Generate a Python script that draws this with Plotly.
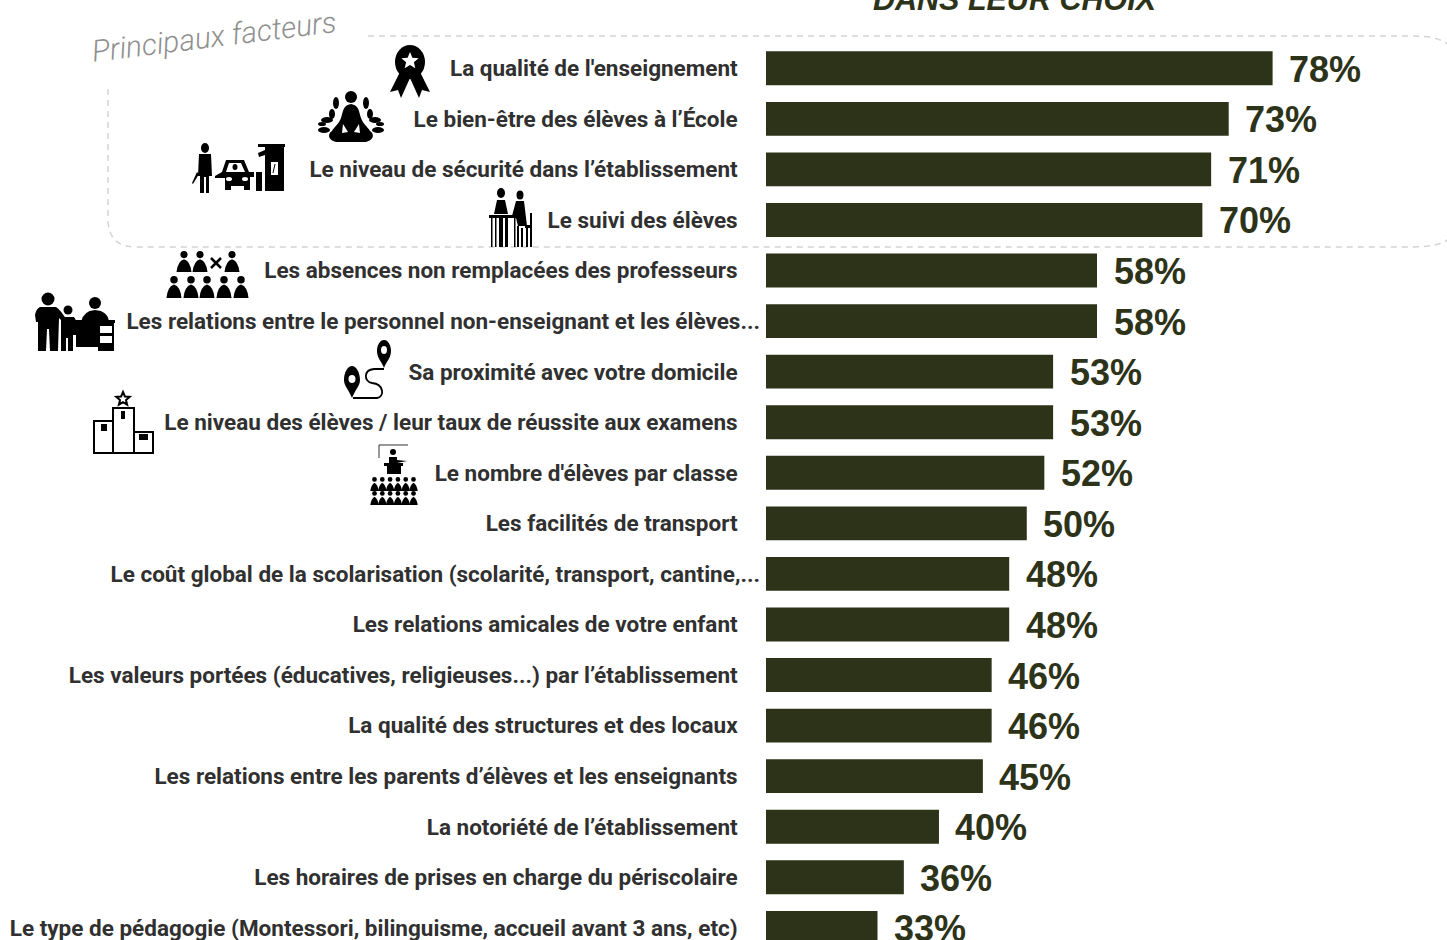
import re
import math
import plotly.graph_objects as go

W, H = 1447, 940
categories = [
    "La qualité de l'enseignement", "Le bien-être des élèves à l’École",
    "Le niveau de sécurité dans l’établissement", "Le suivi des élèves",
    "Les absences non remplacées des professeurs",
    "Les relations entre le personnel non-enseignant et les élèves...",
    "Sa proximité avec votre domicile",
    "Le niveau des élèves / leur taux de réussite aux examens",
    "Le nombre d'élèves par classe", "Les facilités de transport",
    "Le coût global de la scolarisation (scolarité, transport, cantine,...",
    "Les relations amicales de votre enfant",
    "Les valeurs portées (éducatives, religieuses...) par l’établissement",
    "La qualité des structures et des locaux",
    "Les relations entre les parents d’élèves et les enseignants",
    "La notoriété de l’établissement",
    "Les horaires de prises en charge du périscolaire",
    "Le type de pédagogie (Montessori, bilinguisme, accueil avant 3 ans, etc)",
]
values = [78, 73, 71, 70, 58, 58, 53, 53, 52, 50, 48, 48, 46, 46, 45, 40, 36, 33]
AXIS_MIN = 20.3
DARK = "#2d3319"
NB = "\u00a0"
# the two truncated labels run closer to the bars than the others
ticktext = [c if c.endswith(",...") or c.endswith("élèves...") else c + NB * 4 for c in categories]

shapes = []

def P(d, fill="black", line=None, width=0, dash=None):
    """Decorative path given in page pixels, converted to paper fractions."""
    parts, buf = [], []
    for t in re.findall(r"[MLCQZ]|-?\d+\.?\d*", d):
        if t in "MLCQZ":
            parts.append(t)
        else:
            buf.append(t)
            if len(buf) == 2:
                parts.append(f"{float(buf[0]) / W:.5f},{1 - float(buf[1]) / H:.5f}")
                buf = []
    shapes.append(dict(type="path", xref="paper", yref="paper", path=" ".join(parts),
                       fillcolor=fill, layer="above",
                       line=dict(color=line or "rgba(0,0,0,0)", width=width, dash=dash or "solid")))

def E(cx, cy, rx, ry=None, fill="black"):
    ry = ry or rx
    shapes.append(dict(type="circle", xref="paper", yref="paper", layer="above",
                       x0=(cx - rx) / W, x1=(cx + rx) / W, y0=1 - (cy + ry) / H, y1=1 - (cy - ry) / H,
                       fillcolor=fill, line=dict(width=0)))

def R(x0, y0, x1, y1, fill="black", line=None, width=0):
    shapes.append(dict(type="rect", xref="paper", yref="paper", layer="above",
                       x0=x0 / W, x1=x1 / W, y0=1 - y1 / H, y1=1 - y0 / H,
                       fillcolor=fill, line=dict(color=line or "rgba(0,0,0,0)", width=width)))

def star(cx, cy, r, fill="white", line=None, width=0):
    pts = []
    for i in range(10):
        a = -math.pi / 2 + i * math.pi / 5
        rr = r if i % 2 == 0 else r * 0.45
        pts.append((cx + rr * math.cos(a), cy + rr * math.sin(a)))
    P("M " + " L ".join(f"{x:.1f} {y:.1f}" for x, y in pts) + " Z", fill=fill, line=line, width=width)

def person(cx, top, w, h):
    """Small seated pictogram: head and bell-shaped body."""
    r = h * 0.17
    E(cx, top + r, r)
    y0 = top + 2 * r + 1
    y1 = top + h
    P(f"M {cx - w/2} {y1} Q {cx - w/2 + 1} {y0 + 2} {cx} {y0} Q {cx + w/2 - 1} {y0 + 2} {cx + w/2} {y1} Z")

# dashed frame around the main factors
GREY = "#d4d4d4"
P("M 368 36 L 1412 36 Q 1440 36 1450 46", fill="rgba(0,0,0,0)", line=GREY, width=1.5, dash="6px,5px")
P("M 1450 238 Q 1440 247 1412 247 L 136 247 Q 108 247 108 219 L 108 85", fill="rgba(0,0,0,0)", line=GREY, width=1.5, dash="6px,5px")

# medal
P("M 400 72 L 390 92 L 398 90 L 401 98 L 410 78 L 419 98 L 422 90 L 430 92 L 420 72 Z")
E(410, 62, 15, 17)
star(410, 61, 9)

# meditation
E(351, 97, 6)
P("M 351 104 C 343 105 343 112 341 118 C 339 124 334 127 332 131 C 326 135 330 142 338 142 L 364 142 C 372 142 376 135 370 131 C 368 127 363 124 361 118 C 359 112 359 105 351 104 Z")
P("M 343 124 L 348 132 L 342 133 Z", fill="white")
P("M 359 124 L 354 132 L 360 133 Z", fill="white")
for cx, cy, rx, ry in [(336, 103, 3, 6), (327, 120, 6, 3), (324, 130, 6, 3), (332, 114, 3, 5), (366, 103, 3, 6),
                       (375, 120, 6, 3), (378, 130, 6, 3), (370, 114, 3, 5), (322, 124, 4, 2), (380, 124, 4, 2)]:
    E(cx, cy, rx, ry)

# guard, car, booth
E(205, 148, 4, 5)
P("M 199 154 L 211 154 L 212 176 L 209 176 L 209 193 L 206 193 L 206 177 L 204 177 L 204 193 L 200 193 L 200 176 L 198 176 Z")
P("M 197 172 L 199 174 L 193 184 L 192 183 Z")
P("M 226 160 L 244 160 L 249 172 L 254 172 L 254 177 L 250 177 L 250 190 L 244 190 L 244 186 L 231 186 L 231 190 L 225 190 L 225 178 L 215 178 L 215 176 L 222 172 Z")
P("M 229 163 L 241 163 L 245 172 L 226 172 Z", fill="white")
E(235, 167, 2.5, 3)
E(229, 179, 3, 2, fill="white"); E(245, 179, 3, 2, fill="white")
R(256, 172, 262, 191)
R(258, 144, 285, 147)
R(265, 147, 284, 191)
R(271, 162, 278, 175, fill="white")
P("M 275 164 L 273 173", fill="rgba(0,0,0,0)", line="black", width=1)
P("M 258 153 L 265 150 L 265 155 L 259 157 Z")

# two people at a desk
E(501, 193, 4, 5); E(520, 195, 3.5, 4.5)
P("M 497 200 L 505 200 L 508 214 L 494 214 Z")
P("M 516 201 L 524 201 L 527 226 L 518 226 L 516 218 L 512 216 Z")
R(489, 215, 517, 218)
for x in (491, 495, 514):
    R(x, 218, x + 1.5, 247)
R(499, 218, 503, 247); R(505, 218, 508, 247)
R(517, 226, 519, 247); R(521, 228, 523, 247); R(526, 225, 528, 247); R(530, 213, 532, 247); R(525, 225, 532, 228)

# absent teachers
for cx in (184, 200, 232):
    person(cx, 251, 15, 21)
P("M 211 258 L 221 268 M 221 258 L 211 268", fill="rgba(0,0,0,0)", line="black", width=2.5)
for cx in (174, 191, 207, 224, 241):
    person(cx, 276, 15, 22)

# parent, child and staff at desk
E(48, 299, 6.5)
P("M 40 307 L 56 307 Q 60 309 68 322 L 66 325 L 59 318 L 58 351 L 50 351 L 49 329 L 47 329 L 46 351 L 38 351 L 38 322 L 36 322 L 35 315 Q 36 309 40 307 Z")
E(68, 310, 4.5)
P("M 61 317 L 74 317 L 77 322 L 77 335 L 73 335 L 73 351 L 68 351 L 68 338 L 66 338 L 66 351 L 61 351 Z")
E(95, 303, 6)
P("M 81 322 Q 83 311 95 310 Q 108 311 109 322 Z")
R(76, 323, 98, 347)
R(76, 320, 115, 323)
R(98, 323, 114, 351)
R(100, 326, 112, 333, fill="white"); R(100, 336, 112, 343, fill="white")

# map pins with route
P("M 353 398 L 377 398 C 385 397 384 384 372 383 C 364 382 363 370 374 369 L 384 369", fill="rgba(0,0,0,0)", line="black", width=1.8)
P("M 352 398 C 349 390 344 386 344 380 C 344 372 348 366 352 366 C 356 366 360 372 360 380 C 360 386 355 390 352 398 Z")
E(352, 379, 3.5, 4, fill="white")
P("M 384 368 C 382 362 377 358 377 351 C 377 345 380 340 384 340 C 388 340 391 345 391 351 C 391 358 386 362 384 368 Z")
E(384, 350, 3, 4, fill="white")

# podium
R(113, 408, 134, 453, fill="white", line="black", width=2)
R(94, 421, 113, 453, fill="white", line="black", width=2)
R(134, 432, 153, 453, fill="white", line="black", width=2)
star(123, 399, 7, fill="white", line="black", width=2)
R(121, 411, 125, 419); R(101, 424, 107, 431); R(139, 434, 148, 440)

# teacher and class
P("M 379 458 L 379 445 L 408 445", fill="rgba(0,0,0,0)", line="#333333", width=1)
E(393, 452, 3)
P("M 389 457 L 397 457 L 397 460 L 407 461 L 397 463 L 389 463 Z")
R(384, 463, 403, 466)
R(387, 466, 401, 474)
for top in (477, 491):
    for i in range(6):
        person(374.5 + 7.8 * i, top, 8.5, 14)

bar = go.Bar(
    y=categories, x=[v - AXIS_MIN for v in values], base=AXIS_MIN, orientation="h",
    marker=dict(color=DARK, line=dict(width=0)), width=0.67, hoverinfo="skip",
)
annotations = [
    dict(x=v, y=c, xref="x", yref="y", text=f"<b>{v}%</b>", showarrow=False, xanchor="left",
         xshift=14.5, yshift=-1, font=dict(family="Liberation Sans", size=36, color=DARK))
    for v, c in zip(values, categories)
]
annotations += [
    dict(text="<b><i>DANS LEUR CHOIX</i></b>", xref="paper", yref="paper", x=1015 / W, y=1,
         xanchor="center", yanchor="top", yshift=20, showarrow=False,
         font=dict(family="Liberation Sans", size=30.5, color=DARK)),
    dict(text="<i>Principaux facteurs</i>", xref="paper", yref="paper", x=213.5 / W, y=1 - 37 / H,
         xanchor="center", yanchor="middle", showarrow=False, textangle=-7,
         font=dict(family="Roboto", size=30, color="#8f8f8f", weight=300)),
]

fig = go.Figure(bar)
fig.update_layout(
    width=W, height=H, margin=dict(l=0, r=0, t=0, b=0), autosize=False,
    paper_bgcolor="white", plot_bgcolor="rgba(0,0,0,0)", showlegend=False,
    xaxis=dict(domain=[766 / W, 1], range=[AXIS_MIN, AXIS_MIN + 681 / 8.78], visible=False),
    yaxis=dict(range=[17.24, -1.35], type="category", showgrid=False, zeroline=False,
               showline=False, ticks="", ticklabelstandoff=5, automargin=False,
               tickmode="array", tickvals=categories, ticktext=ticktext,
               tickfont=dict(family="Roboto", size=22.5, color="#303030", weight=700)),
    annotations=annotations, shapes=shapes,
)
fig.write_html("out.html", config=dict(displayModeBar=False),
               post_script="document.body.style.margin='0';")
